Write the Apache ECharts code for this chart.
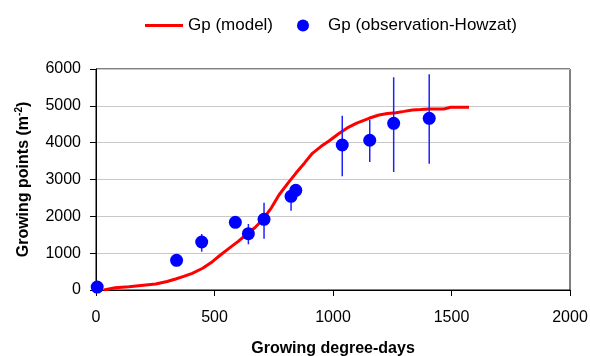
<!DOCTYPE html>
<html>
<head>
<meta charset="utf-8">
<script src="https://cdn.jsdelivr.net/npm/echarts@6/dist/echarts.min.js"></script>
<style>html,body{margin:0;padding:0;background:#fff}#c{width:590px;height:356px}</style>
</head>
<body>
<div id="c"></div>
<script>
// Model curve: growing degree-days and growing points (m-2)
var modelX = [34, 80, 139, 200, 252, 300, 336, 370, 406, 450, 491, 525, 561, 600, 632, 670, 702, 740, 772, 810, 843, 880, 913, 950, 983, 1025, 1060, 1100, 1152, 1194, 1230, 1265, 1300, 1335, 1370, 1405, 1440, 1468, 1497, 1540, 1574];
var modelY = [0, 60, 90, 130, 163, 230, 300, 370, 453, 590, 770, 950, 1131, 1320, 1493, 1690, 1900, 2230, 2580, 2900, 3168, 3450, 3711, 3900, 4045, 4250, 4400, 4530, 4662, 4752, 4790, 4814, 4850, 4887, 4900, 4915, 4915, 4915, 4960, 4960, 4960];
// Observations (Howzat) with error bar bounds
var obsX = [5, 340, 446, 588, 643, 709, 823, 843, 1039, 1155, 1256, 1406];
var obsY = [80, 806, 1303, 1838, 1529, 1920, 2544, 2707, 3937, 4065, 4526, 4662];
var obsLow = [80, 806, 1040, 1838, 1241, 1393, 2153, 2600, 3087, 3475, 3204, 3429];
var obsHigh = [80, 806, 1520, 1838, 1792, 2370, 2670, 2800, 4733, 4616, 5775, 5857];
var xTicks = [0, 500, 1000, 1500, 2000];
var yTicks = [0, 1000, 2000, 3000, 4000, 5000, 6000];

var modelData = modelX.map(function (x, i) { return [x, modelY[i]]; });
var obsData = obsX.map(function (x, i) { return [x, obsY[i]]; });
var errData = obsX.map(function (x, i) { return [x, obsLow[i], obsHigh[i]]; });

var FONT = 'Liberation Sans, Arial, sans-serif';
var chart = echarts.init(document.getElementById('c'), null, {renderer: 'canvas'});
chart.setOption({
  animation: false,
  backgroundColor: '#fff',
  textStyle: {fontFamily: FONT},
  legend: [{
    data: [{name: 'Gp (model)', icon: 'rect'}],
    left: 145, top: 17, padding: 0,
    itemWidth: 38, itemHeight: 3,
    textStyle: {fontFamily: FONT, fontSize: 17, color: '#000'}
  }, {
    data: [{name: 'Gp (observation-Howzat)', icon: 'circle'}],
    left: 297, top: 17, padding: 0,
    itemWidth: 12, itemHeight: 12,
    textStyle: {fontFamily: FONT, fontSize: 17, color: '#000', padding: [0, 0, 0, 14]}
  }],
  grid: {left: 96, right: 20, top: 69, bottom: 66, show: true, borderColor: '#000', borderWidth: 1, outerBoundsMode: 'none', containLabel: false},
  xAxis: {
    type: 'value', min: 0, max: 2000, interval: 500,
    name: 'Growing degree-days', nameLocation: 'middle', nameGap: 51,
    nameTextStyle: {fontFamily: FONT, fontSize: 16, fontWeight: 'bold', color: '#000'},
    axisLine: {show: true, onZero: false, lineStyle: {color: '#000', width: 1}},
    axisTick: {show: true, inside: false, length: 6, lineStyle: {color: '#000'}},
    axisLabel: {margin: 20, fontFamily: FONT, fontSize: 16, color: '#000',
      formatter: function (v) { return xTicks.indexOf(v) >= 0 ? String(v) : ''; }},
    splitLine: {show: false}
  },
  yAxis: {
    type: 'value', min: 0, max: 6000, interval: 1000,
    name: '{a|Growing points (m}{s|-2}{a|)}', nameLocation: 'middle', nameGap: 62,
    nameTextStyle: {
      rich: {
        a: {fontFamily: FONT, fontSize: 16, fontWeight: 'bold', color: '#000', lineHeight: 20},
        s: {fontFamily: FONT, fontSize: 10, fontWeight: 'bold', color: '#000', lineHeight: 20, verticalAlign: 'top', padding: [0, 0, 7, 0]}
      }
    },
    axisLine: {show: true, lineStyle: {color: '#000', width: 1}},
    axisTick: {show: true, inside: false, length: 6, lineStyle: {color: '#000'}},
    axisLabel: {margin: 15, fontFamily: FONT, fontSize: 16, color: '#000',
      formatter: function (v) { return yTicks.indexOf(v) >= 0 ? String(v) : ''; }},
    splitLine: {show: true, lineStyle: {color: '#c8c8c8', width: 1}}
  },
  series: [{
    name: 'Gp (model)', type: 'line', data: modelData,
    showSymbol: false, symbol: 'none',
    lineStyle: {color: '#ff0000', width: 3},
    itemStyle: {color: '#ff0000'}, z: 2
  }, {
    name: 'err', type: 'custom', data: errData, z: 3,
    renderItem: function (params, api) {
      var lo = api.coord([api.value(0), api.value(1)]);
      var hi = api.coord([api.value(0), api.value(2)]);
      return {type: 'line', shape: {x1: lo[0], y1: lo[1], x2: hi[0], y2: hi[1]},
        style: {stroke: '#2020ff', lineWidth: 1.5}};
    },
    encode: {x: 0, y: [1, 2]}
  }, {
    name: 'Gp (observation-Howzat)', type: 'scatter', data: obsData,
    symbol: 'circle', symbolSize: 13,
    itemStyle: {color: '#0000ff', opacity: 1}, z: 4
  }]
});
</script>
</body>
</html>
